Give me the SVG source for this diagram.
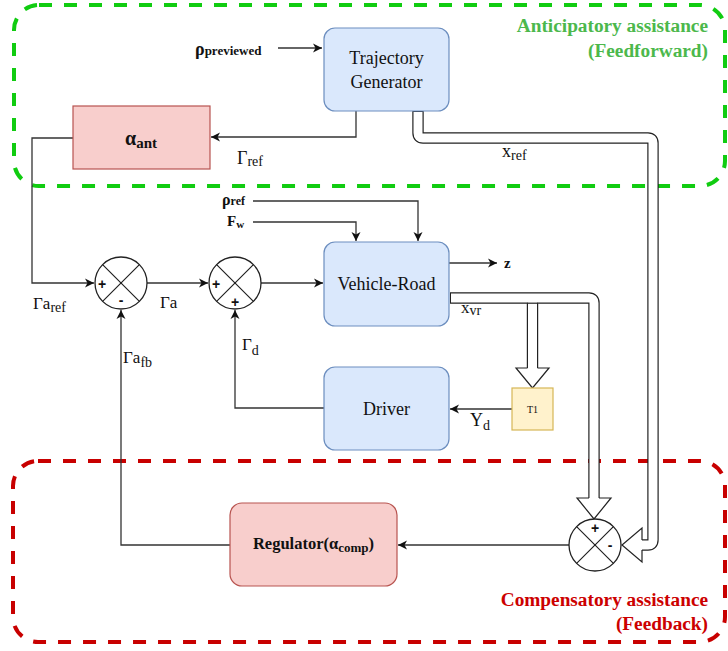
<svg xmlns="http://www.w3.org/2000/svg" width="728" height="651" viewBox="0 0 728 651">
<style>
.blue{fill:#dae8fc;stroke:#6c8ebf;stroke-width:1.2}
.pink{fill:#f8cecc;stroke:#b85450;stroke-width:1.2}
.yel{fill:#fff2cc;stroke:#d6b656;stroke-width:1.2}
.t{font-family:"Liberation Serif","Times New Roman",serif;fill:#111}
.b{font-weight:bold}
.c{text-anchor:middle}
.r{text-anchor:end}
.ln{fill:none;stroke:#333;stroke-width:1.3}
.sum{fill:#fff;stroke:#222;stroke-width:1.3}
.sx{stroke:#222;stroke-width:1.2}
.sg{font-family:"Liberation Sans",Arial,sans-serif;font-weight:bold;font-size:14px;fill:#111;text-anchor:middle}
.bk{fill:none;stroke:#222;stroke-width:11.4}
.wh{fill:none;stroke:#fff;stroke-width:9}
.hd{fill:#fff;stroke:#222;stroke-width:1.2;stroke-linejoin:miter}
</style>
<defs>
<marker id="ar" viewBox="-1 -5 11 10" markerUnits="userSpaceOnUse" markerWidth="11" markerHeight="10" refX="9" refY="0" orient="auto">
<path d="M0,-4.5 L9,0 L0,4.5 L2.5,0 z" fill="#111"/>
</marker>
</defs>

<g id="regions">
<rect x="14" y="5" width="711" height="181" rx="25" fill="none" stroke="#11cc11" stroke-width="4" stroke-dasharray="13 12"/>
<rect x="13" y="461" width="712" height="181" rx="25" fill="none" stroke="#c80000" stroke-width="4" stroke-dasharray="13 12"/>
<text class="t b r" x="708" y="32" font-size="19.3" style="fill:#4cb84c">Anticipatory assistance</text>
<text class="t b r" x="708" y="57" font-size="19.3" style="fill:#4cb84c">(Feedforward)</text>
<text class="t b r" x="708" y="606" font-size="19.3" style="fill:#cc0000">Compensatory assistance</text>
<text class="t b r" x="708" y="630" font-size="19.3" style="fill:#cc0000">(Feedback)</text>
</g>

<g id="connectors">
<path class="ln" d="M278,48 L322,48" marker-end="url(#ar)"/>
<path class="ln" d="M356,111 L356,137 L211,137" marker-end="url(#ar)"/>
<path class="ln" d="M73,138 L32,138 L32,283 L94,283" marker-end="url(#ar)"/>
<path class="ln" d="M147,283 L208,283" marker-end="url(#ar)"/>
<path class="ln" d="M261,283 L323,283" marker-end="url(#ar)"/>
<path class="ln" d="M253,201 L418,201 L418,241" marker-end="url(#ar)"/>
<path class="ln" d="M253,222 L356,222 L356,241" marker-end="url(#ar)"/>
<path class="ln" d="M449,263 L497,263" marker-end="url(#ar)"/>
<path class="ln" d="M512,409 L450,409" marker-end="url(#ar)"/>
<path class="ln" d="M324,408 L235,408 L235,310" marker-end="url(#ar)"/>
<path class="ln" d="M569,545 L398,545" marker-end="url(#ar)"/>
<path class="ln" d="M230,545 L121,545 L121,310" marker-end="url(#ar)"/>

<path class="bk" d="M418,111 L418,133 Q418,138 423,138 L648,138 Q653,138 653,143 L653,540 Q653,545 648,545 L642,545"/>
<path class="wh" d="M418,111 L418,133 Q418,138 423,138 L648,138 Q653,138 653,143 L653,540 Q653,545 648,545 L642,545"/>
<path class="hd" d="M642,540 L642,528 L622,545 L642,562 L642,550"/>
<path class="sx" d="M413,111.5 L423,111.5" style="stroke-width:1"/>

<path class="bk" d="M450,298 L589,298 Q594,298 594,303 L594,498"/>
<path class="wh" d="M450,298 L589,298 Q594,298 594,303 L594,498"/>
<path class="hd" d="M589,498 L577,498 L594,519 L611,498 L599,498"/>
<path class="sx" d="M450.5,293 L450.5,303" style="stroke-width:1"/>
<path class="bk" d="M532.5,303.6 L532.5,368"/>
<path class="wh" d="M532.5,302.5 L532.5,368"/>
<path class="sx" d="M527,303.3 L538,303.3" style="stroke-width:1"/>
<path class="hd" d="M527.5,368 L516,368 L532.5,388 L549,368 L537.5,368"/>
</g>

<g id="traj">
<rect class="blue" x="324" y="28" width="125" height="83" rx="11"/>
<text class="t c" x="386.5" y="64" font-size="18">Trajectory</text>
<text class="t c" x="386.5" y="88" font-size="18">Generator</text>
</g>
<g id="rho-prev">
<text class="t b" x="195" y="55" font-size="18">ρ<tspan font-size="13">previewed</tspan></text>
</g>
<g id="alpha-ant">
<rect class="pink" x="73" y="106" width="137" height="63"/>
<text class="t b c" x="141" y="145" font-size="20">α<tspan font-size="15" dy="3">ant</tspan></text>
</g>
<g id="sum1">
<circle class="sum" cx="121" cy="283" r="26"/>
<path class="sx" d="M102.6,264.6 L139.4,301.4 M139.4,264.6 L102.6,301.4"/>
<text class="sg" x="102" y="289">+</text>
<text class="sg" x="121" y="305">-</text>
</g>
<g id="sum2">
<circle class="sum" cx="235" cy="283" r="26"/>
<path class="sx" d="M216.6,264.6 L253.4,301.4 M253.4,264.6 L216.6,301.4"/>
<text class="sg" x="216" y="289">+</text>
<text class="sg" x="235" y="307">+</text>
</g>
<g id="vehicle">
<rect class="blue" x="324" y="242" width="125" height="84" rx="11"/>
<text class="t c" x="386.5" y="290" font-size="18">Vehicle-Road</text>
</g>
<g id="driver">
<rect class="blue" x="324" y="367" width="125" height="83" rx="11"/>
<text class="t c" x="386.5" y="415" font-size="18">Driver</text>
</g>
<g id="t1">
<rect class="yel" x="512" y="388" width="41" height="42"/>
<text class="t c" x="532.5" y="413" font-size="10">T1</text>
</g>
<g id="regulator">
<rect class="pink" x="230" y="503" width="167" height="83" rx="12"/>
<text class="t b c" x="313.5" y="549" font-size="16.5">Regulator(α<tspan font-size="13" dy="3">comp</tspan><tspan dy="-3">)</tspan></text>
</g>
<g id="sum3">
<circle class="sum" cx="595" cy="545" r="26"/>
<path class="sx" d="M576.6,526.6 L613.4,563.4 M613.4,526.6 L576.6,563.4"/>
<text class="sg" x="595" y="533">+</text>
<text class="sg" x="610" y="550">-</text>
</g>

<g id="labels">
<text class="t" x="237" y="164" font-size="18">Γ<tspan font-size="14" dy="2">ref</tspan></text>
<text class="t" x="502" y="157" font-size="18">x<tspan font-size="14" dy="3">ref</tspan></text>
<text class="t b" x="222" y="205" font-size="16">ρ<tspan font-size="12">ref</tspan></text>
<text class="t b" x="227" y="226" font-size="15">F<tspan font-size="11" dy="2">w</tspan></text>
<text class="t b" x="504" y="268" font-size="15">z</text>
<text class="t" x="33" y="309" font-size="17">Γa<tspan font-size="14" dy="3">ref</tspan></text>
<text class="t" x="160" y="308" font-size="17">Γa</text>
<text class="t" x="242" y="350" font-size="17">Γ<tspan font-size="14" dy="5">d</tspan></text>
<text class="t" x="123" y="363" font-size="17">Γa<tspan font-size="14" dy="4">fb</tspan></text>
<text class="t" x="461" y="313" font-size="17">x<tspan font-size="14" dy="2">vr</tspan></text>
<text class="t" x="470" y="426" font-size="18">Y<tspan font-size="14" dy="4">d</tspan></text>
</g>
</svg>
